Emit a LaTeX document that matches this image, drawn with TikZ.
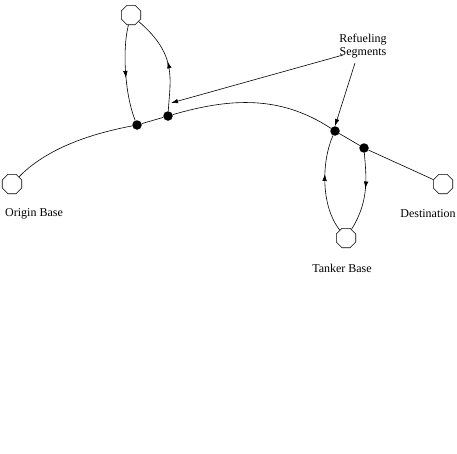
\documentclass[tikz,border=0pt]{standalone}
\usepackage{fontspec}
\setmainfont{Liberation Serif}
\usetikzlibrary{arrows.meta,positioning,shapes.geometric,decorations.markings}
\tikzset{
  base/.style ={draw,line width=0.6pt,fill=white,regular polygon,regular polygon sides=8,
                minimum size=21pt,inner sep=0pt},
  vtx/.style  ={circle,fill,inner sep=0pt,minimum size=9.5pt},
  leg/.style  ={draw,line width=0.6pt},
  midarr/.style={postaction={decorate},decoration={markings,
                mark=at position #1 with {\arrow{Latex[length=7pt,width=4.5pt]}}}},
  lbl/.style  ={font=\fontsize{12}{13}\selectfont,inner sep=0pt,align=center},
}

\begin{document}
\begin{tikzpicture}[x=1pt,y=-1pt]
  \useasboundingbox (0,0) rectangle (457,453);
  % bases
  \node[base] (tb0) at (131,15) {};
  \node[base] (ob)  at (12,184) {};
  \node[base] (db)  at (443,184) {};
  \node[base] (tb)  at (346,238) {};
  % refueling points
  \node[vtx] (a) at (137,125) {};
  \node[vtx] (b) at (168,116) {};
  \node[vtx] (c) at (335,131) {};
  \node[vtx] (d) at (364,148) {};
  % route
  \draw[leg] (ob) .. controls (50,145) and (100,132) .. (a);
  \draw[leg] (a) -- (b);
  \draw[leg] (b) .. controls (230,98) and (280,95) .. (c);
  \draw[leg] (c) -- (d);
  \draw[leg] (d) -- (db);
  % tanker legs
  \draw[leg,midarr=0.55] (tb0) .. controls (122,50) and (125,95) .. (a);
  \draw[leg,midarr=0.5] (b) .. controls (170,80) and (178,55) .. (tb0);
  \draw[leg,midarr=0.6] (tb) .. controls (320,205) and (322,160) .. (c);
  \draw[leg,midarr=0.45] (d) .. controls (366,175) and (370,200) .. (tb);
  % labels
  \node[lbl] (seg) at (363,46) {Refueling\\Segments};
  \node[lbl] (obl) at (34,214) {Origin Base};
  \node[lbl] (dbl) at (428,214) {Destination};
  \node[lbl] (tbl) at (342,268) {Tanker Base};
  \coordinate (s1) at (343,55);
  \coordinate (s2) at (355,63);
  \coordinate (sb) at (171,103);
  \draw[leg,-{Latex[length=7pt,width=4.5pt]}] (s1) -- (sb);
  \draw[leg,-{Latex[length=7pt,width=4.5pt]}] (s2) -- (c.north);
\end{tikzpicture}
\end{document}
